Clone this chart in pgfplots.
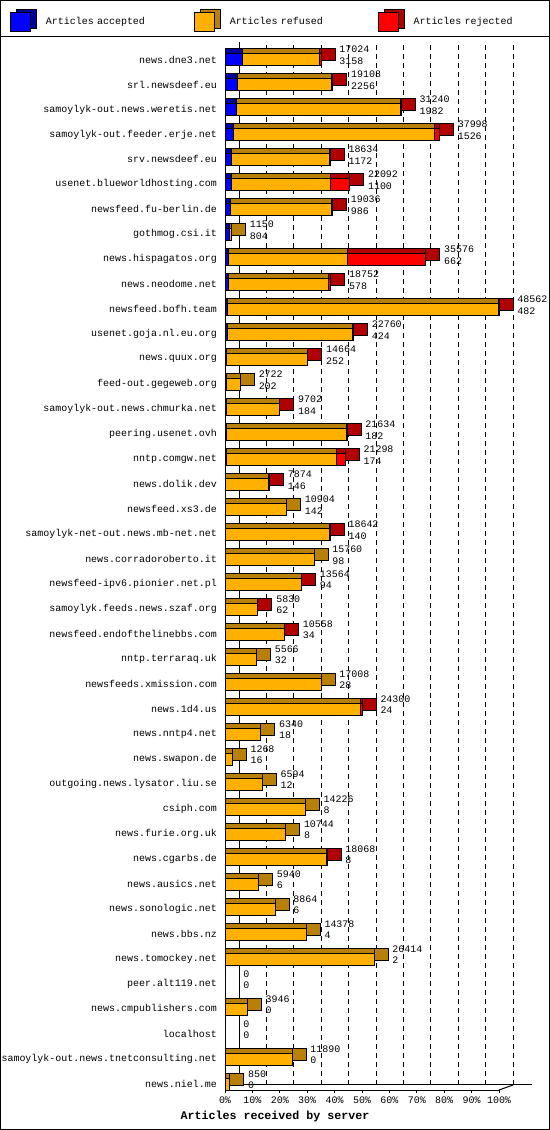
\documentclass[border=0pt]{standalone}
\usepackage{fontspec}
\setmainfont{Liberation Mono}
\usepackage{pgfplots}
\pgfplotsset{compat=1.18}
\usepackage{pgfplotstable}

\definecolor{accblue}{RGB}{0,0,255}
\definecolor{accdark}{RGB}{0,0,160}
\definecolor{refgold}{RGB}{255,176,0}
\definecolor{refdark}{RGB}{184,128,8}
\definecolor{rejred}{RGB}{255,0,0}
\definecolor{rejdark}{RGB}{176,0,0}

\newcommand\lbl{\fontsize{10}{11.5}\selectfont}

% y = row, total = articles offered, acc = accepted, rej = rejected
\pgfplotstableread{
y total acc rej
0 17024 3158 300
1 19108 2256 300
2 31240 1982 200
3 37998 1526 900
4 18634 1172 100
5 22092 1100 3450
6 19036 986 100
7 1150 804 0
8 35576 662 13900
9 18752 578 450
10 48562 482 150
11 22760 424 100
12 14664 252 100
13 2722 202 0
14 9702 184 100
15 21634 182 100
16 21298 174 1500
17 7874 146 100
18 10904 142 0
19 18642 140 100
20 15760 98 0
21 13564 94 100
22 5830 62 100
23 10558 34 100
24 5566 32 0
25 17008 28 0
26 24300 24 350
27 6340 18 0
28 1268 16 0
29 6594 12 0
30 14226 8 0
31 10744 8 0
32 18068 8 100
33 5940 6 0
34 8864 6 0
35 14378 4 0
36 26414 2 0
37 0 0 0
38 3946 0 0
39 0 0 0
40 11890 0 0
41 850 0 0
}\servers

% depth of the bars in data units (14bp of the 274bp wide axis)
\def\depth{2481.3}

\begin{document}
\begin{tikzpicture}
\useasboundingbox (0,0) rectangle (550bp,1130bp);
\draw[line width=1bp] (0.5bp,0.5bp) rectangle (549.5bp,1129.5bp);
\draw[line width=1bp] (0,1093.5bp) -- (550bp,1093.5bp);

% back wall with the dashed grid
\begin{axis}[at={(239bp,45bp)}, anchor=south west, scale only axis,
  width=293bp, height=1043bp,
  xmin=0, xmax=51929.6, ymin=0, ymax=1, scaled x ticks=false,
  axis x line*=bottom, axis y line*=left,
  axis line style={black, line width=1bp, -},
  xtick={4856.2,9712.4,14568.6,19424.8,24281,29137.2,33993.4,38849.6,43705.8},
  xticklabels={}, ytick=\empty, tick style={draw=none},
  xmajorgrids, major grid style={black, line width=0.8bp, dash pattern=on 5bp off 4bp},
  extra x ticks={48562}, extra x tick labels={},
  extra x tick style={grid style={solid, black, line width=1bp}},
]
\end{axis}

\begin{axis}[at={(225bp,40bp)}, anchor=south west, scale only axis,
  width=274bp, height=1037bp,
  xmin=0, xmax=48562, ymin=-0.26, ymax=41.24, y dir=reverse,
  scaled x ticks=false,
  axis x line*=bottom, axis y line*=left,
  axis line style={black, line width=1bp, -},
  xtick={0,4856.2,9712.4,14568.6,19424.8,24281,29137.2,33993.4,38849.6,43705.8,48562},
  xticklabels={0\%,10\%,20\%,30\%,40\%,50\%,60\%,70\%,80\%,90\%,100\%},
  ytick={0,...,41},
  yticklabels={news.dne3.net,srl.newsdeef.eu,samoylyk-out.news.weretis.net,
    samoylyk-out.feeder.erje.net,srv.newsdeef.eu,usenet.blueworldhosting.com,
    newsfeed.fu-berlin.de,gothmog.csi.it,news.hispagatos.org,news.neodome.net,
    newsfeed.bofh.team,usenet.goja.nl.eu.org,news.quux.org,feed-out.gegeweb.org,
    samoylyk-out.news.chmurka.net,peering.usenet.ovh,nntp.comgw.net,news.dolik.dev,
    newsfeed.xs3.de,samoylyk-net-out.news.mb-net.net,news.corradoroberto.it,
    newsfeed-ipv6.pionier.net.pl,samoylyk.feeds.news.szaf.org,
    newsfeed.endofthelinebbs.com,nntp.terraraq.uk,newsfeeds.xmission.com,
    news.1d4.us,news.nntp4.net,news.swapon.de,outgoing.news.lysator.liu.se,
    csiph.com,news.furie.org.uk,news.cgarbs.de,news.ausics.net,news.sonologic.net,
    news.bbs.nz,news.tomockey.net,peer.alt119.net,news.cmpublishers.com,localhost,
    samoylyk-out.news.tnetconsulting.net,news.niel.me},
  tick label style={font=\lbl},
  /pgf/number format/assume math mode=true,
  xtick style={black, line width=1bp}, ytick style={draw=none},
  major tick length=3bp, tick align=outside,
  yticklabel style={inner sep=0pt, xshift=-5bp},
  xticklabel style={inner sep=0pt, yshift=-4bp},
  xlabel={Articles received by server},
  xlabel style={font=\fontsize{11.7}{14}\selectfont\bfseries,
    at={(axis description cs:0.1825,-0.026)}, anchor=center},
  xbar, bar width=12bp, bar shift=0pt, clip=false,
  every axis plot/.append style={draw=black, line width=0.8bp},
  legend columns=3, reverse legend,
  legend style={at={(axis description cs:-0.7847,1.0318)}, anchor=west,
    draw=none, fill=none, inner sep=0pt, column sep=0pt,
    nodes={inner sep=0pt, font=\lbl, anchor=west},
    /tikz/every odd column/.append style={column sep=9bp},
    /tikz/every even column/.append style={column sep=10bp}},
]
% side faces (colour of the last segment)
\addplot[forget plot, fill=rejdark, yshift=5bp]
  table[y=y, x expr={\thisrow{rej}>0 ? \thisrow{total}+\depth : nan}]{\servers};
\addplot[forget plot, fill=refdark, yshift=5bp]
  table[y=y, x expr={(\thisrow{rej}>0 || \thisrow{total}==0) ? nan : \thisrow{total}+\depth}]{\servers};
% top faces
\addplot[forget plot, fill=rejdark, yshift=5bp] table[x=total, y=y]{\servers};
\addplot[forget plot, fill=refdark, yshift=5bp]
  table[y=y, x expr=\thisrow{total}-\thisrow{rej}]{\servers};
\addplot[forget plot, fill=accdark, yshift=5bp] table[x=acc, y=y]{\servers};
% front faces
\addplot[fill=rejred,
  legend image code/.code={
    \draw[fill=rejdark, line width=0.8bp] (6bp,-6.5bp) rectangle (26bp,12.5bp);
    \draw[fill=rejred, line width=0.8bp] (0bp,-9.5bp) rectangle (20bp,9.5bp);},
  point meta=explicit symbolic,
  visualization depends on={\thisrow{acc}\as\accv},
  nodes near coords={\pgfplotspointmeta\\\pgfmathprintnumber[fixed,precision=0,1000 sep={}]{\accv}},
  every node near coord/.append style={anchor=west, align=left, inner sep=0pt,
    font=\lbl, text=black, xshift=18bp, yshift=4.25bp}]
  table[x=total, y=y, meta=total]{\servers};
\addlegendentry[text width=138bp]{Articles rejected}
\addplot[fill=refgold,
  legend image code/.code={
    \draw[fill=refdark, line width=0.8bp] (6bp,-6.5bp) rectangle (26bp,12.5bp);
    \draw[fill=refgold, line width=0.8bp] (0bp,-9.5bp) rectangle (20bp,9.5bp);}]
  table[y=y, x expr=\thisrow{total}-\thisrow{rej}]{\servers};
\addlegendentry[text width=138bp]{Articles refused}
\addplot[fill=accblue,
  legend image code/.code={
    \draw[fill=accdark, line width=0.8bp] (6bp,-6.5bp) rectangle (26bp,12.5bp);
    \draw[fill=accblue, line width=0.8bp] (0bp,-9.5bp) rectangle (20bp,9.5bp);}]
  table[x=acc, y=y]{\servers};
\addlegendentry[text width=138bp]{Articles accepted}
\draw[line width=1bp] (axis cs:48562,41.24) -- ++(14bp,5bp);
\end{axis}
\end{tikzpicture}
\end{document}
